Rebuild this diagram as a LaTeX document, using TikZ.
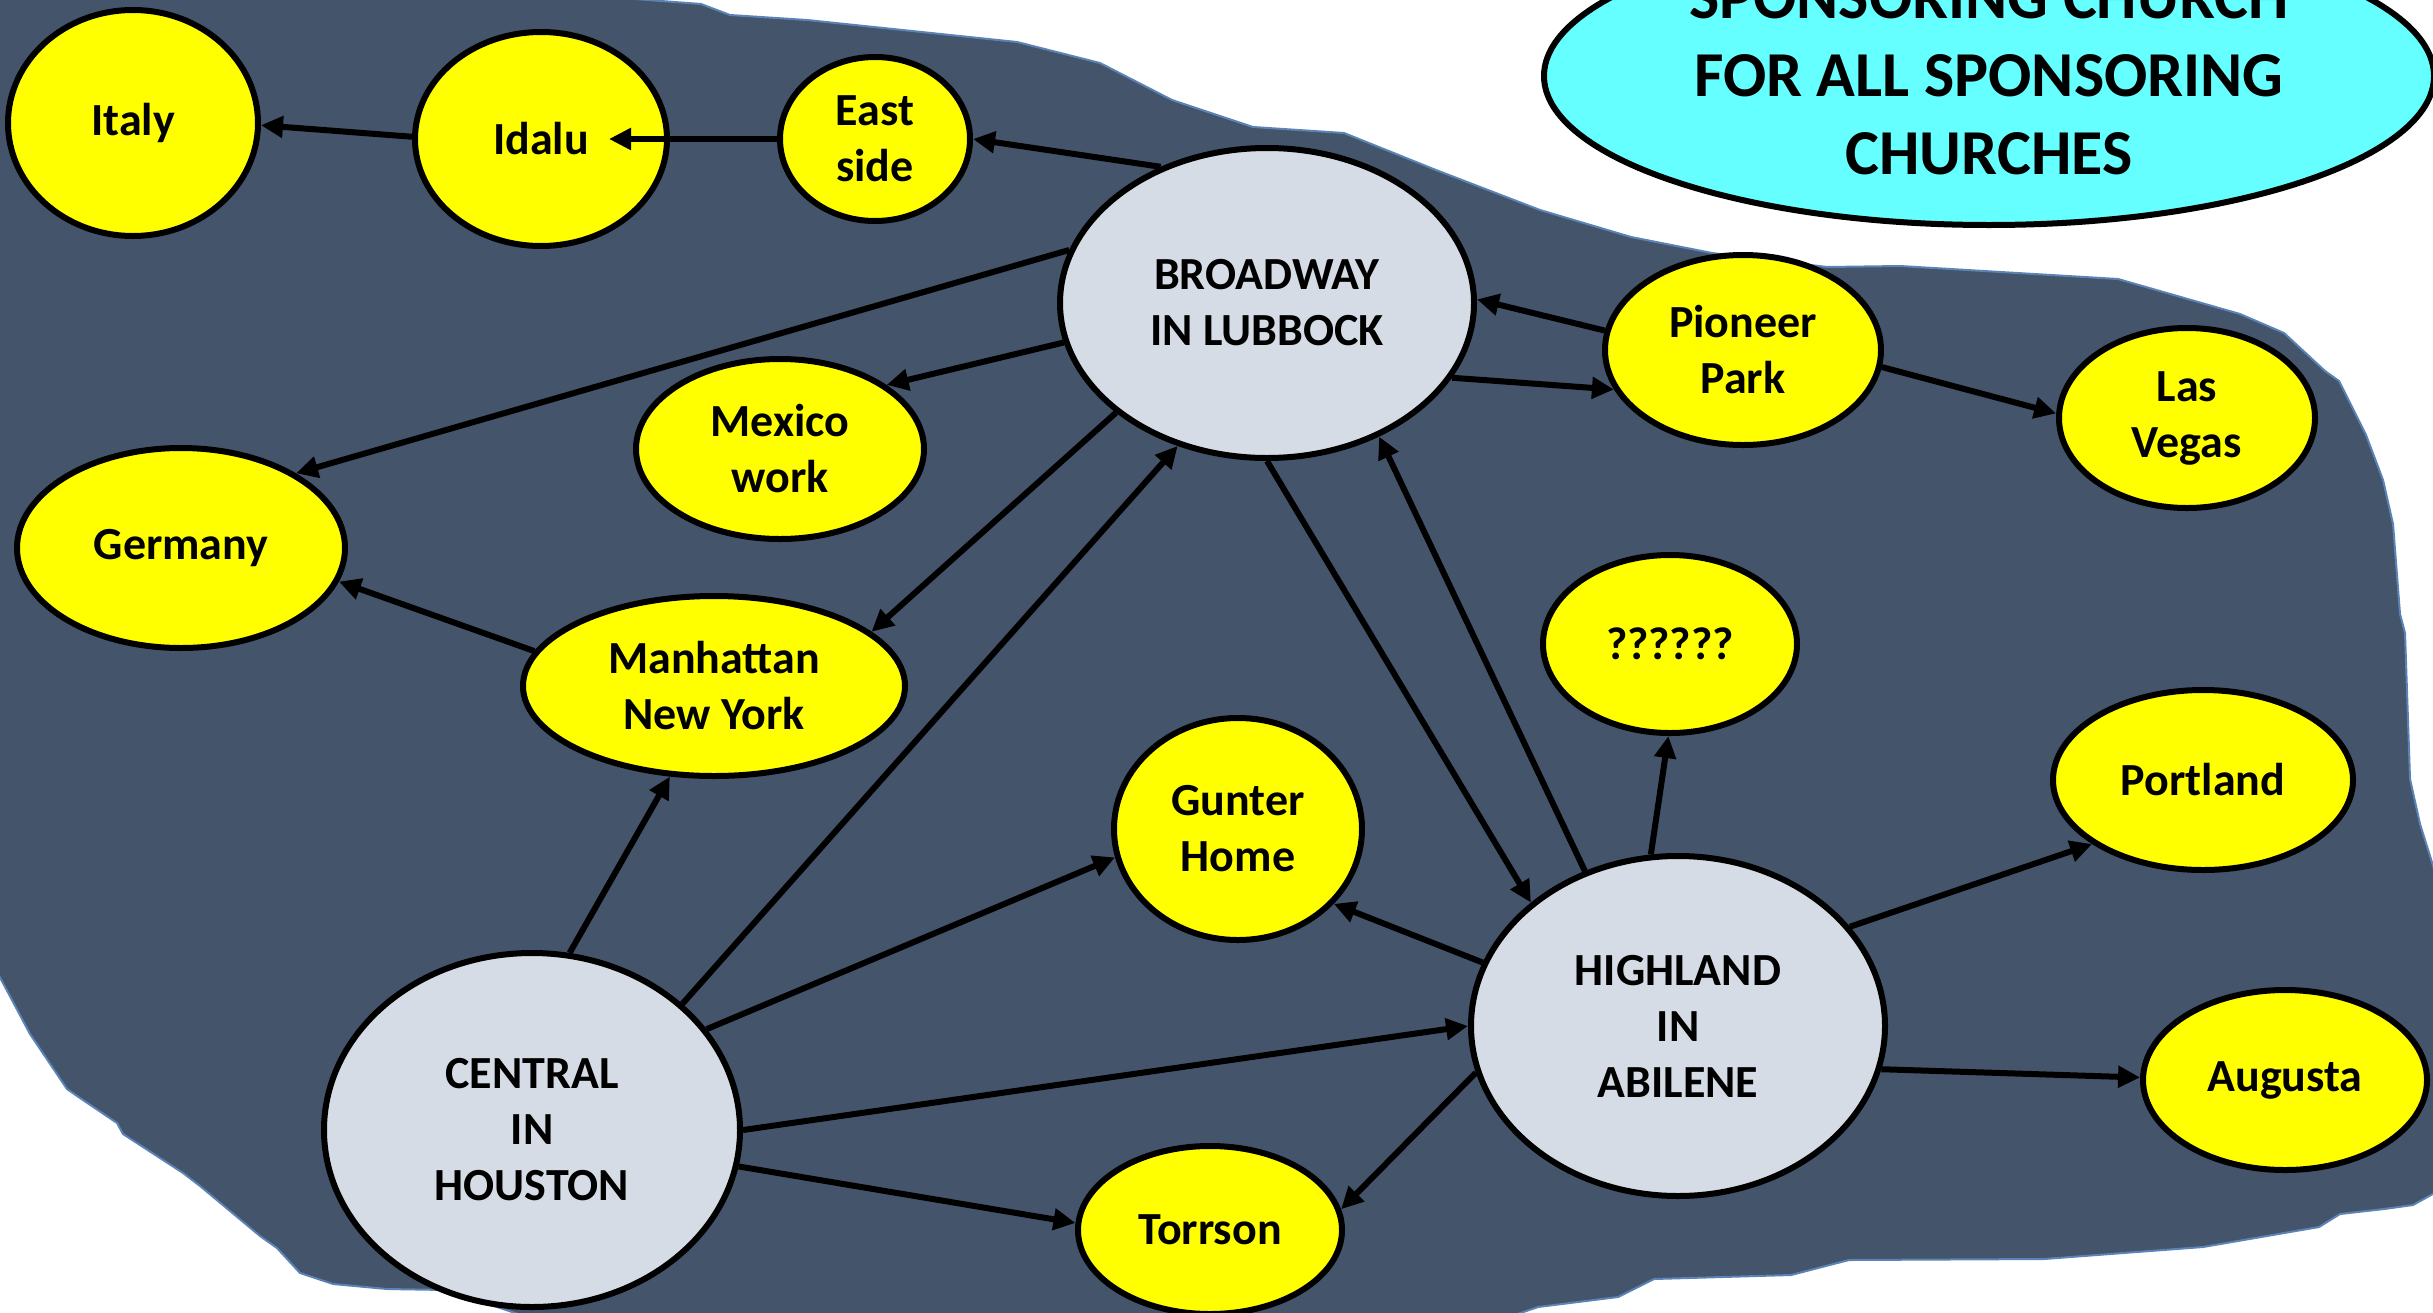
\documentclass[tikz,border=0pt]{standalone}
\usepackage{fontspec}
\setmainfont{Carlito}
\usetikzlibrary{shapes.geometric,arrows.meta,calc}
\definecolor{blobfill}{HTML}{44546A}
\definecolor{blobline}{HTML}{5B83B5}
\definecolor{nodey}{HTML}{FFFF00}
\definecolor{nodeg}{HTML}{D6DCE5}
\definecolor{nodec}{HTML}{66FFFF}
\begin{document}
\begin{tikzpicture}[x=1pt,y=-1pt,
  every node/.style={font=\bfseries\fontsize{46}{56}\selectfont, align=center, text=black},
  ov/.style 2 args={ellipse, draw=black, line width=6pt, inner sep=0pt,
    minimum width=#1pt, minimum height=#2pt},
  yel/.style={fill=nodey},
  gry/.style={fill=nodeg},
  cya/.style={fill=nodec, font=\bfseries\fontsize{64}{78}\selectfont},
  arr/.style={draw=black, line width=6pt, -{Triangle[length=22pt,width=21pt]}},
  blob/.style={fill=blobfill, draw=blobline, line width=2pt, line join=round}
]
\useasboundingbox (0,0) rectangle (2433,1312);
\clip (0,0) rectangle (2433,1312);
\fill[white] (0,0) rectangle (2433,1312);

% background region
\path[blob] (0,-5) -- (582,-5) -- (701,4) -- (730,15) -- (807,20) -- (1017,42) -- (1100,63)
  -- (1172,100) -- (1253,127) -- (1344,133) -- (1436,170) -- (1540,210) -- (1631,237)
  -- (1712,253) -- (1827,267) -- (1900,266) -- (2118,279) -- (2240,314) -- (2284,333)
  -- (2325,371) -- (2339,381) -- (2366,435) -- (2383,480) -- (2393,524) -- (2400,614)
  -- (2405,633) -- (2410,779) -- (2420,824) -- (2440,888) -- (2440,1190) -- (2413,1205)
  -- (2384,1209) -- (2340,1214) -- (2319,1227) -- (2261,1237) -- (2203,1247) -- (2044,1259)
  -- (1849,1260) -- (1791,1275) -- (1654,1279) -- (1618,1297) -- (1538,1307) -- (1500,1320)
  -- (536,1320) -- (446,1290) -- (387,1289) -- (333,1284) -- (300,1273) -- (277,1248)
  -- (260,1236) -- (200,1186) -- (183,1173) -- (123,1134) -- (117,1123) -- (80,1098)
  -- (67,1089) -- (30,1034) -- (-5,968) -- (-5,-5) -- cycle;

% nodes
\node[ov={890}{298}, cya] (ttlnode) at (1989,76) {SPONSORING CHURCH\\FOR ALL SPONSORING\\CHURCHES};
\node[ov={250}{226}, yel] (italy) at (133,123) {Italy};
\node[ov={252}{214}, yel] (idalu) at (541,139) {Idalu};
\node[ov={190}{164}, yel] (east) at (875,139) {East\\side};
\node[ov={414}{310}, gry] (broadway) at (1267,303) {BROADWAY\\IN LUBBOCK};
\node[ov={276}{190}, yel] (pioneer) at (1743,350) {Pioneer\\Park};
\node[ov={256}{180}, yel] (lasvegas) at (2187,418) {Las\\Vegas};
\node[ov={288}{180}, yel] (mexico) at (780,449) {Mexico\\work};
\node[ov={328}{200}, yel] (germany) at (181,548) {Germany};
\node[ov={382}{180}, yel] (manhattan) at (714,686) {Manhattan\\New York};
\node[ov={254}{178}, yel] (qq) at (1670,644) {??????};
\node[ov={248}{222}, yel] (gunter) at (1238,829) {Gunter\\Home};
\node[ov={300}{180}, yel] (portland) at (2203,780) {Portland};
\node[ov={414}{340}, gry] (highland) at (1678,1026) {HIGHLAND\\IN\\ABILENE};
\node[ov={284}{180}, yel] (augusta) at (2285,1080) {Augusta};
\node[ov={416}{354}, gry] (central) at (532,1130) {CENTRAL\\IN\\HOUSTON};
\node[ov={264}{168}, yel] (torrson) at (1210,1230) {Torrson};

% connectors
\draw[arr] (idalu.179) -- (italy.-1);
\draw[arr] (east.180) -- ($(idalu.center)+(68,0)$);
\draw[arr] (broadway.128) -- (east.0);
\draw[arr] (broadway.165) -- (germany.33);
\draw[arr] (broadway.191) -- (mexico.31);
\draw[arr] (broadway.216) -- (manhattan.19);
\draw[arr] (central.40) -- (broadway.238);
\draw[arr] (pioneer.172) -- (broadway.1);
\draw[arr] (broadway.338) -- (pioneer.197);
\draw[arr] (pioneer.353) -- (lasvegas.178);
\draw[arr] (broadway.270) -- (highland.140);
\draw[arr] (highland.121) -- (broadway.310);
\draw[arr] (manhattan.169) -- (germany.348);
\draw[arr] (central.78) -- (manhattan.244);
\draw[arr] (highland.99) -- (qq.269);
\draw[arr] (central.30) -- (gunter.193);
\draw[arr] (highland.162) -- (gunter.322);
\draw[arr] (central.0) -- (highland.180);
\draw[arr] (central.350) -- (torrson.177);
\draw[arr] (highland.193) -- (torrson.9);
\draw[arr] (highland.30) -- (portland.210);
\draw[arr] (highland.348) -- (augusta.179);
\end{tikzpicture}
\end{document}
